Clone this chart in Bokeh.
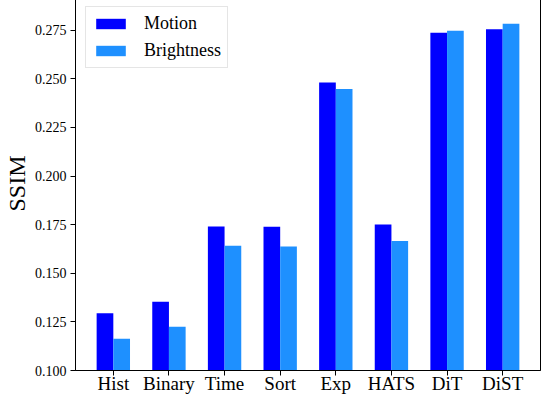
from bokeh.plotting import figure
from bokeh.models import Range1d, FixedTicker, ColumnDataSource, Legend, LegendItem
from bokeh.embed import file_html
from bokeh.resources import INLINE
from bokeh.transform import dodge

categories = ["Hist", "Binary", "Time", "Sort", "Exp", "HATS", "DiT", "DiST"]
motion = [0.1295, 0.1354, 0.1740, 0.1739, 0.2481, 0.1751, 0.2736, 0.2755]
brightness = [0.1163, 0.1225, 0.1642, 0.1637, 0.2448, 0.1666, 0.2747, 0.2783]
y_ticks = [0.100, 0.125, 0.150, 0.175, 0.200, 0.225, 0.250, 0.275]

idx = list(range(len(categories)))
src = ColumnDataSource(dict(x=idx, motion=motion, brightness=brightness))

FONT = "Liberation Serif"

p = figure(width=542, height=404, output_backend="svg", toolbar_location=None,
           x_range=Range1d(-0.68, len(categories) - 1 + 0.68),
           y_range=Range1d(0.100, 0.2923),
           min_border_left=69, min_border_right=2, min_border_top=4, min_border_bottom=0)
p.styles = {"margin-top": "-8px"}

r1 = p.vbar(x=dodge("x", -0.15), top="motion", bottom=0.1, width=0.3, source=src,
            fill_color="#0000FF", line_color=None)
r2 = p.vbar(x=dodge("x", 0.15), top="brightness", bottom=0.1, width=0.3, source=src,
            fill_color="#1E90FF", line_color=None)

p.xgrid.visible = False
p.ygrid.visible = False
p.outline_line_color = "black"
p.outline_line_width = 1
p.background_fill_color = "white"
p.border_fill_color = "white"

p.xaxis.ticker = FixedTicker(ticks=idx)
p.xaxis.major_label_overrides = {i: c for i, c in zip(idx, categories)}
p.yaxis.ticker = FixedTicker(ticks=y_ticks)
p.yaxis.major_label_overrides = {t: f"{t:.3f}" for t in y_ticks}

for ax in (p.xaxis[0], p.yaxis[0]):
    ax.axis_line_color = "black"
    ax.major_tick_line_color = "black"
    ax.major_tick_out = 5
    ax.major_tick_in = 0
    ax.minor_tick_line_color = None
    ax.major_label_text_font = FONT
    ax.major_label_text_color = "black"

p.xaxis.major_label_standoff = -3
p.xaxis.axis_label_standoff = 0
p.xaxis.major_label_text_font_size = "19px"
p.yaxis.major_label_standoff = 4
p.yaxis.major_label_text_font_size = "14px"
p.yaxis.axis_label = "SSIM"
p.yaxis.axis_label_text_font = FONT
p.yaxis.axis_label_text_font_size = "24px"
p.yaxis.axis_label_text_font_style = "normal"
p.yaxis.axis_label_text_color = "black"
p.yaxis.axis_label_standoff = 2

legend = Legend(items=[LegendItem(label="Motion", renderers=[r1]),
                       LegendItem(label="Brightness", renderers=[r2])],
                location="top_left")
legend.margin = 10
legend.padding = 6
legend.spacing = 6
legend.glyph_width = 37
legend.glyph_height = 13
legend.label_height = 20
legend.label_standoff = 15
legend.label_text_font = FONT
legend.label_text_font_size = "18px"
legend.label_text_color = "black"
legend.border_line_color = "#cccccc"
legend.border_line_width = 1
legend.background_fill_alpha = 0.8
p.add_layout(legend)

open("out.html", "w").write(file_html(p, INLINE))
